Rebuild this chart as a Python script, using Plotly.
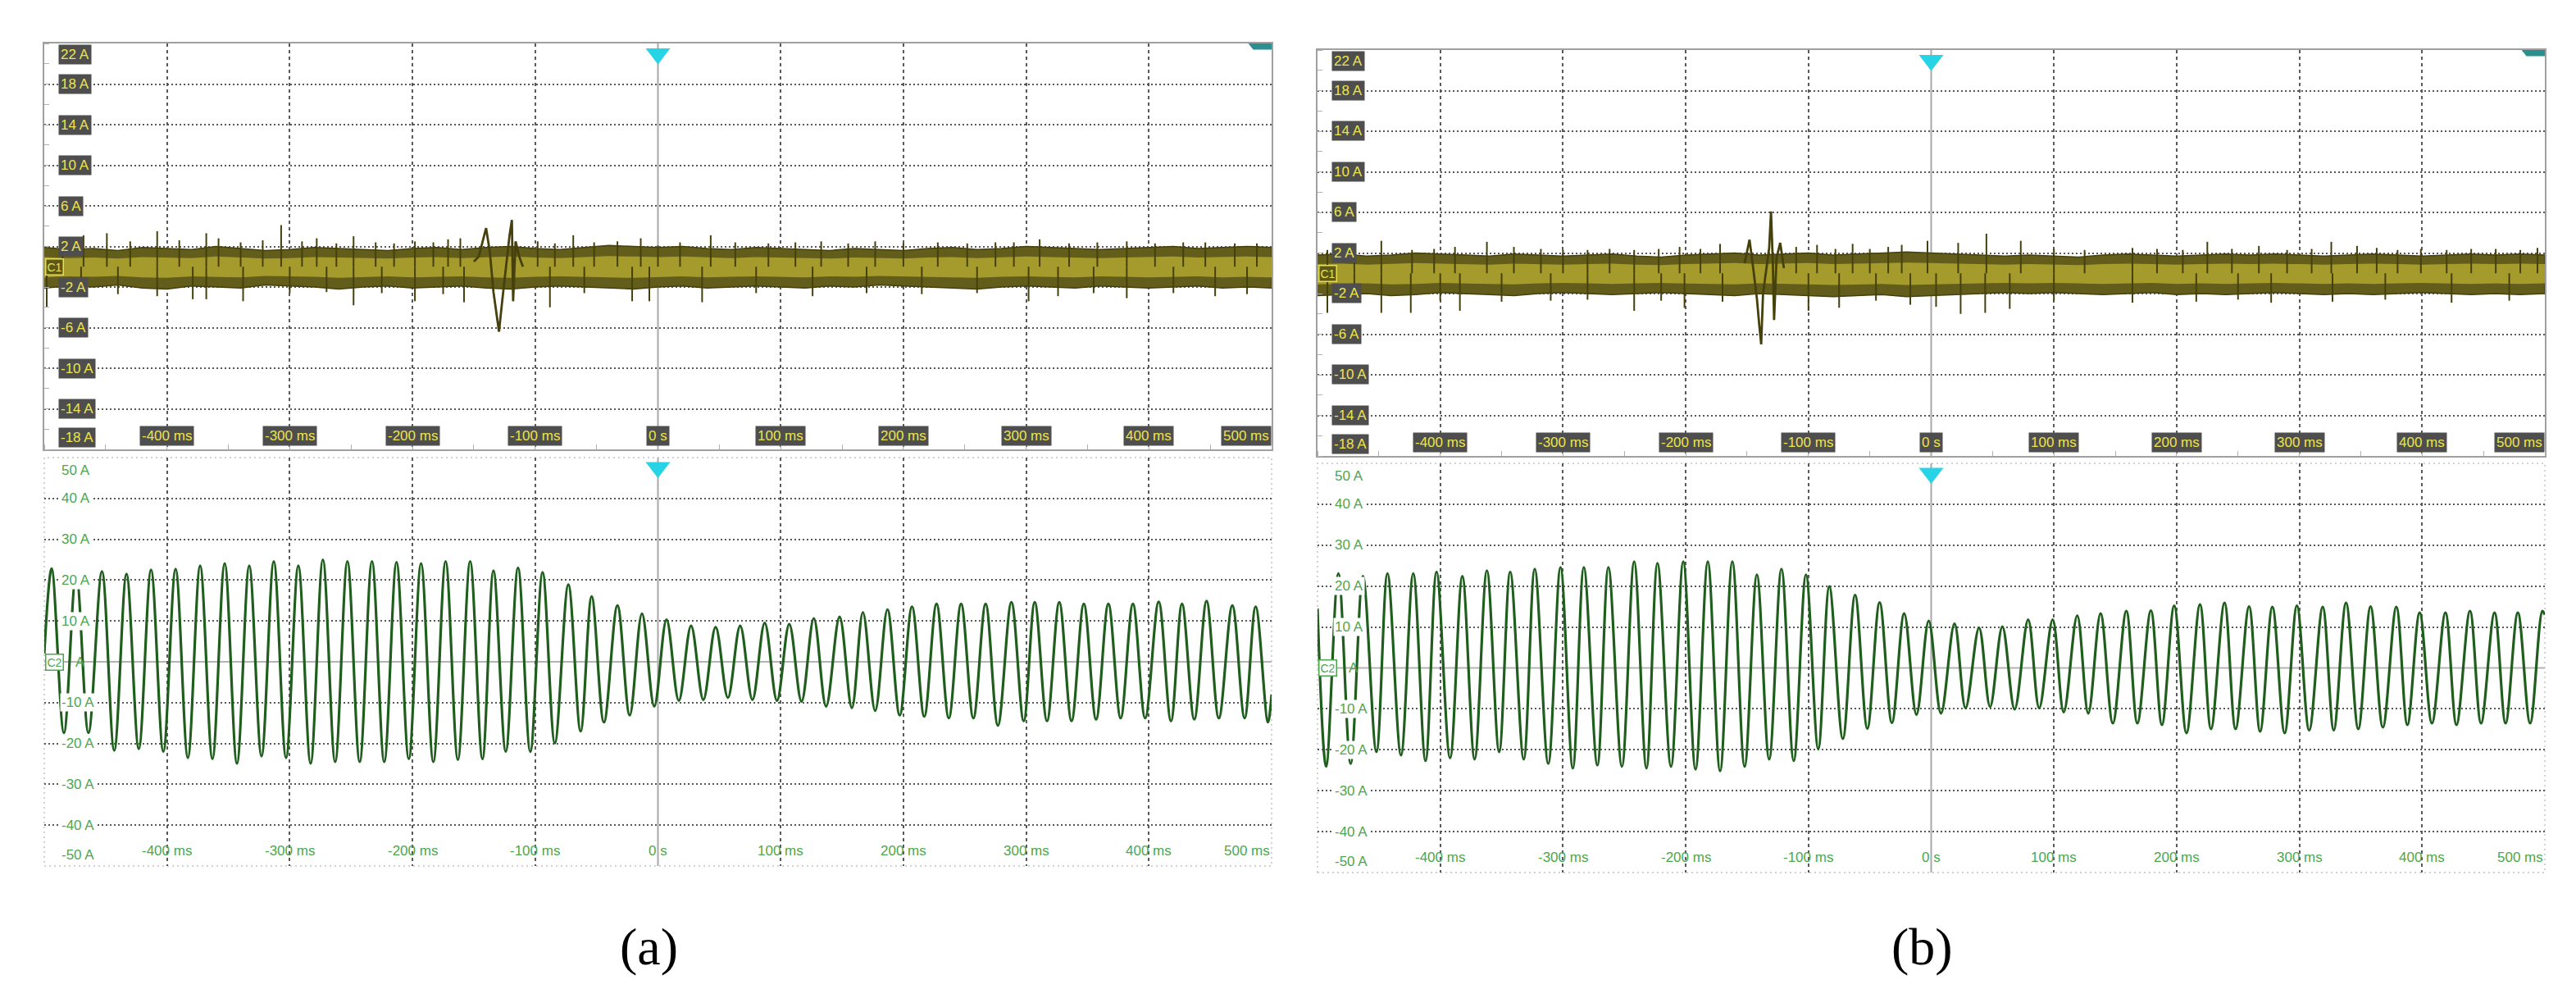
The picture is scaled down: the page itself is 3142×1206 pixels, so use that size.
import plotly.graph_objects as go

# ---------------- DATA ----------------
# time grid labels
x_tick_vals = [-400, -300, -200, -100, 0, 100, 200, 300, 400, 500]
x_tick_text = ["-400 ms", "-300 ms", "-200 ms", "-100 ms", "0 s",
               "100 ms", "200 ms", "300 ms", "400 ms", "500 ms"]
top_y_vals = [22, 18, 14, 10, 6, 2, -2, -6, -10, -14, -18]
top_y_text = ["22 A", "18 A", "14 A", "10 A", "6 A", "2 A", "-2 A", "-6 A", "-10 A", "-14 A", "-18 A"]
bot_y_vals = [50, 40, 30, 20, 10, -10, -20, -30, -40, -50]
bot_y_text = ["50 A", "40 A", "30 A", "20 A", "10 A", "-10 A", "-20 A", "-30 A", "-40 A", "-50 A"]

# ----- panel (a), channel 2 (green, 50 Hz current): peak / trough times (ms) and values (A)
a_peak_t = [-494, -474, -453, -433, -413, -393, -373, -353, -333, -313, -293, -273, -253, -233, -213,
            -193, -173, -153, -134, -114, -94, -73, -54, -33, -13, 7, 27, 47, 67, 87, 107, 127, 148,
            167, 187, 207, 227, 247, 267, 288, 307, 327, 347, 367, 387, 408, 427, 447, 468, 487]
a_peak_v = [22.8, 21.7, 22.1, 21.5, 22.5, 22.7, 23.5, 24.1, 23.5, 24.6,
            23.5, 25.0, 24.6, 24.6, 24.4, 24.1, 24.6, 24.6, 22.3, 23.0,
            21.9, 18.9, 16.0, 13.8, 11.8, 10.3, 8.8, 8.5, 8.8, 9.5,
            9.2, 10.6, 11.0, 12.1, 12.8, 13.5, 14.2, 14.2, 14.2, 14.6,
            14.6, 14.6, 14.2, 14.2, 14.2, 14.7, 14.2, 14.9, 13.8, 13.5]
a_trough_t = [-484, -464, -443, -423, -403, -383, -363, -343, -323, -303, -283, -263, -243, -223, -203,
              -183, -163, -143, -124, -104, -84, -63, -44, -23, -3, 17, 37, 57, 77, 97, 117, 137, 158,
              177, 197, 217, 237, 257, 277, 298, 317, 337, 357, 377, 397, 418, 437, 457, 478, 497]
a_trough_v = [-17.4, -17.4, -21.7, -21.3, -22.0, -23.5, -23.8, -24.9, -23.1, -23.5,
              -24.9, -24.5, -24.5, -24.5, -23.8, -24.5, -24.0, -23.8, -22.0, -22.0,
              -19.9, -17.0, -14.8, -13.1, -10.9, -9.5, -9.3, -8.8, -9.3, -9.5,
              -9.7, -10.9, -11.3, -12.0, -13.1, -13.4, -13.8, -13.8, -15.6, -14.5,
              -14.5, -14.5, -14.1, -13.8, -13.8, -14.5, -14.1, -13.8, -13.8, -14.8]
a_start_v = 2.0
a_end_v = -8.0

# ----- panel (b), channel 2
b_peak_t = [-483, -463, -443, -422, -403, -382, -362, -343, -323, -302, -283, -263, -242, -223, -202,
            -182, -162, -142, -122, -102, -83, -62, -42, -22, -2, 19, 39, 58, 79, 99, 119, 138, 159,
            179, 198, 219, 239, 259, 278, 298, 319, 338, 358, 379, 398, 419, 439, 459, 478, 498]
b_peak_v = [23.1, 22.4, 23.1, 23.1, 23.5, 22.4, 23.8, 23.5, 24.2, 24.6,
            24.6, 24.6, 26.0, 25.6, 26.0, 26.0, 26.0, 22.8, 24.2, 22.8,
            19.9, 17.8, 16.0, 13.3, 11.5, 10.8, 9.8, 10.1, 11.8, 11.8,
            12.8, 13.3, 13.9, 14.0, 15.2, 15.5, 15.9, 15.0, 14.9, 15.2,
            14.9, 15.9, 15.0, 14.9, 13.5, 13.5, 13.9, 13.5, 13.5, 13.9]
b_trough_t = [-493, -473, -452, -432, -412, -392, -372, -352, -332, -312, -292, -272, -252, -232, -212,
              -192, -172, -152, -132, -112, -92, -72, -52, -32, -12, 8, 28, 48, 68, 88, 108, 128, 148,
              168, 188, 208, 228, 248, 268, 288, 308, 328, 348, 368, 388, 408, 428, 448, 468, 488]
b_trough_v = [-24.1, -23.4, -20.5, -21.3, -22.7, -22.0, -22.3, -20.5, -22.3, -23.4,
              -24.5, -23.8, -24.1, -24.5, -24.1, -24.8, -25.2, -24.1, -22.3, -22.7,
              -19.8, -17.3, -14.8, -13.4, -11.4, -11.1, -9.8, -9.5, -10.1, -9.8,
              -10.8, -11.1, -13.5, -13.5, -13.9, -15.9, -14.9, -14.9, -15.5, -15.9,
              -15.2, -15.2, -14.9, -14.5, -13.9, -13.5, -13.9, -13.5, -13.5, -13.5]
b_start_v = 14.5
b_end_v = 13.0

# ----- channel 1 (yellow noise): band envelope every 20 ms, spikes and the fault transient
band_t = list(range(-500, 501, 20))
a_band_hi = [1.9, 1.7, 1.8, 1.6, 1.9, 1.8, 1.7, 2.0, 1.8, 1.6, 1.7, 1.9, 1.8, 1.7, 1.6, 1.8, 1.9,
             1.7, 1.9, 2.0, 1.8, 1.7, 1.9, 2.1, 2.0, 1.9, 2.0, 1.8, 1.7, 1.9, 1.8, 1.7, 1.6, 1.8,
             1.7, 1.6, 1.8, 1.9, 1.7, 1.8, 2.0, 1.9, 1.8, 1.7, 1.8, 1.9, 2.0, 1.8, 1.9, 2.0, 1.9]
a_band_lo = [-2.1, -1.9, -2.0, -1.8, -2.1, -2.2, -1.9, -2.0, -2.1, -1.8, -1.9, -2.0, -2.2, -2.0,
             -1.9, -2.1, -2.0, -1.9, -2.1, -2.2, -2.0, -1.9, -2.0, -2.1, -2.2, -2.0, -1.9, -2.1,
             -2.0, -1.9, -2.0, -2.1, -1.9, -2.0, -1.8, -1.9, -2.0, -2.1, -2.2, -2.0, -1.9, -2.0,
             -2.1, -1.9, -2.0, -2.1, -2.0, -1.9, -2.1, -2.0, -2.1]
a_up_t = [-485, -468, -449, -430, -408, -390, -368, -358, -340, -322, -307, -290, -278, -262, -248,
          -230, -215, -198, -183, -171, -161, -98, -84, -69, -52, -33, -14, 0, 18, 43, 63, 90, 112,
          133, 155, 177, 200, 228, 252, 275, 290, 311, 335, 358, 382, 405, 428, 446, 470, 488]
a_up_v = [2.4, 3.1, 3.3, 2.5, 3.5, 2.6, 3.3, 2.8, 2.4, 2.6, 4.1, 2.5, 2.8, 2.3, 3.0, 2.4, 2.3,
          2.5, 2.4, 2.7, 2.8, 2.5, 2.3, 3.1, 2.4, 2.5, 2.8, 2.1, 2.4, 3.1, 2.4, 2.3, 2.4, 2.5,
          2.3, 2.5, 2.3, 2.4, 2.3, 2.4, 2.4, 2.7, 2.3, 2.4, 2.5, 2.3, 2.4, 2.4, 2.3, 2.3]
a_dn_t = [-498, -470, -440, -408, -379, -368, -338, -300, -270, -248, -225, -198, -175, -158, -88,
          -60, -21, -7, 36, 80, 126, 170, 215, 260, 302, 326, 355, 382, 420, 454, 480]
a_dn_v = [-4.0, -2.6, -2.7, -2.9, -3.2, -3.2, -3.4, -2.6, -2.5, -3.8, -2.6, -3.4, -2.7, -3.5,
          -4.0, -2.6, -3.4, -3.4, -3.5, -2.6, -2.9, -2.6, -2.7, -2.6, -3.4, -2.9, -2.6, -3.1,
          -2.6, -2.9, -2.7]
a_ev_t = [-150, -146, -140, -137, -134, -131, -129.5, -127, -124, -121, -119, -118, -116, -113, -110]
a_ev_v = [0.5, 1.0, 3.8, 1.5, -2.5, -5.0, -6.4, -3.5, 0.0, 3.0, 4.6, -3.4, 2.5, 1.0, 0.0]

b_band_hi = [1.8, 1.9, 1.7, 1.8, 2.0, 1.9, 1.8, 1.7, 1.9, 1.8, 1.7, 1.8, 1.9, 1.7, 1.6, 1.8, 1.9,
             2.0, 1.8, 1.9, 2.0, 1.8, 1.9, 2.0, 2.1, 2.0, 1.9, 1.8, 1.7, 1.8, 1.7, 1.6, 1.8, 1.9,
             1.8, 1.7, 1.8, 1.9, 1.8, 1.9, 1.8, 1.7, 1.8, 1.9, 1.8, 1.7, 1.8, 1.9, 1.8, 1.9, 1.8]
b_band_lo = [-2.2, -2.1, -2.0, -2.2, -2.1, -1.9, -2.0, -2.1, -2.2, -2.0, -1.9, -2.0, -2.1, -2.0,
             -1.9, -2.0, -2.1, -2.2, -2.0, -2.1, -2.2, -2.3, -2.2, -2.1, -2.3, -2.2, -2.1, -2.0,
             -1.9, -2.0, -1.9, -2.0, -2.1, -2.0, -1.9, -2.1, -2.0, -2.1, -2.0, -1.9, -2.0, -2.1,
             -2.0, -2.1, -2.0, -1.9, -2.0, -2.1, -2.0, -2.1, -2.0]
b_up_t = [-492, -470, -448, -423, -405, -388, -362, -340, -318, -300, -280, -262, -242, -222, -205,
          -188, -172, -110, -93, -78, -64, -50, -35, -24, -3, 22, 45, 73, 100, 125, 164, 184, 205,
          225, 245, 267, 290, 310, 326, 347, 363, 380, 399, 420, 440, 460, 480, 494]
b_up_v = [2.3, 2.4, 3.2, 2.3, 2.4, 2.6, 3.1, 2.6, 2.4, 2.3, 2.3, 2.4, 2.3, 2.4, 2.6, 2.4, 2.9,
          2.6, 2.8, 2.4, 2.9, 2.4, 2.6, 2.8, 3.2, 3.0, 3.9, 3.2, 2.4, 2.3, 2.5, 2.4, 2.3, 3.1,
          2.4, 2.7, 2.3, 2.4, 3.1, 2.7, 2.5, 2.3, 2.4, 2.3, 2.4, 2.4, 2.3, 2.5]
b_dn_t = [-492, -470, -448, -424, -400, -384, -350, -310, -280, -242, -220, -201, -170, -100, -75,
          -45, -17, 4, 24, 44, 64, 100, 164, 216, 250, 277, 327, 370, 424, 471]
b_dn_v = [-3.9, -2.8, -3.9, -3.9, -2.7, -3.7, -2.8, -2.7, -2.6, -3.7, -2.7, -3.4, -2.8, -3.7,
          -3.4, -2.7, -3.1, -3.3, -4.0, -3.9, -3.5, -2.7, -2.9, -2.8, -2.6, -2.9, -2.8, -2.6,
          -2.9, -2.7]
b_ev_t = [-152, -148, -145, -142, -140, -138.5, -137, -134, -132, -130.5, -129, -128, -126, -123, -120]
b_ev_v = [1.0, 3.3, 0.5, -2.5, -5.2, -7.0, -2.0, 0.5, 2.5, 6.1, 1.0, -4.6, 1.5, 3.0, 0.5]

panel_labels = ["(a)", "(b)"]

# ---------------- STYLE ----------------
W, H = 3142, 1206
FONT = "Liberation Sans Narrow, Liberation Sans, Arial, sans-serif"
YEL_TXT = "#ece44c"
BOX_BG = "#4e4e4e"
GRN_TXT = "#4da64d"
GRID = "#585858"
FRAME = "#a0a0a0"
OLIVE_DARK = "#45400c"

A_X = [46 / W, 1543 / W]
B_X = [1599 / W, 3096 / W]
A_TOP = [1 - 540 / H, 1 - 45 / H]
A_BOT = [1 - 1048 / H, 1 - 550 / H]
B_TOP = [1 - 548 / H, 1 - 53 / H]
B_BOT = [1 - 1056 / H, 1 - 557 / H]

fig = go.Figure()
layout = dict(width=W, height=H, margin=dict(l=0, r=0, t=0, b=0),
              paper_bgcolor="white", plot_bgcolor="white", showlegend=False)
annotations = []
shapes = []

grid_x = [v for v in x_tick_vals if v not in (0, 500)]


def axis_pair(n, xdom, ydom, yr, ygrid, top):
    xs = "" if n == 1 else str(n)
    xa = dict(domain=xdom, range=[-500, 500], anchor="y" + xs, showgrid=True,
              tickvals=grid_x, showticklabels=False, gridcolor=GRID, griddash="4px,4px",
              gridwidth=1.5, zeroline=False, ticks="", fixedrange=True)
    ya = dict(domain=ydom, range=yr, anchor="x" + xs, showgrid=True, tickvals=ygrid,
              showticklabels=False, gridcolor=GRID, griddash="2px,3px", gridwidth=1.8,
              zeroline=False, ticks="", fixedrange=True)
    if top:
        for a in (xa, ya):
            a.update(showline=True, linecolor=FRAME, linewidth=2, mirror=True)
        xa["minor"] = dict(dtick=50, ticks="inside", ticklen=6, tickcolor="#b0b0b0", showgrid=False)
        ya["minor"] = dict(dtick=2, tick0=0, ticks="inside", ticklen=6, tickcolor="#b0b0b0", showgrid=False)
    layout["xaxis" + xs] = xa
    layout["yaxis" + xs] = ya
    return "x" + xs, "y" + xs


def center_lines(xr, yr, horizontal):
    shapes.append(dict(type="line", xref=xr, yref=yr + " domain", x0=0, x1=0, y0=0, y1=1,
                       line=dict(color="#a8a8a8", width=2), layer="below"))
    if horizontal:
        shapes.append(dict(type="line", xref=xr + " domain", yref=yr, x0=0, x1=1, y0=0, y1=0,
                           line=dict(color="#b4b4b4", width=2), layer="below"))


def top_panel(n, xdom, ydom, hi, lo, up_t, up_v, dn_t, dn_v, ev_t, ev_v):
    xr, yr = axis_pair(n, xdom, ydom, [-18, 22], [18, 14, 10, 6, 2, -2, -6, -10, -14], True)
    center_lines(xr, yr, False)
    # noise band (outer envelope)
    fig.add_trace(go.Scatter(x=band_t + band_t[::-1], y=hi + lo[::-1], fill="toself",
                             fillcolor="#635d1c", line=dict(color=OLIVE_DARK, width=1.5),
                             mode="lines", xaxis=xr, yaxis=yr, hoverinfo="skip"))
    # brighter core of the band
    core_hi = [v * 0.5 for v in hi]
    core_lo = [v * 0.5 for v in lo]
    fig.add_trace(go.Scatter(x=band_t + band_t[::-1], y=core_hi + core_lo[::-1], fill="toself",
                             fillcolor="rgba(176,166,48,0.85)", line=dict(width=0),
                             mode="lines", xaxis=xr, yaxis=yr, hoverinfo="skip"))
    sx, sy = [], []
    for t, v in list(zip(up_t, up_v)) + list(zip(dn_t, dn_v)):
        sx += [t, t, None]
        sy += [0, v, None]
    fig.add_trace(go.Scatter(x=sx, y=sy, mode="lines", line=dict(color=OLIVE_DARK, width=2),
                             xaxis=xr, yaxis=yr, hoverinfo="skip"))
    fig.add_trace(go.Scatter(x=ev_t, y=ev_v, mode="lines", line=dict(color=OLIVE_DARK, width=2.8),
                             xaxis=xr, yaxis=yr, hoverinfo="skip"))
    # trigger marker and corner tag
    fig.add_trace(go.Scatter(x=[0], y=[21.0], mode="markers", cliponaxis=False,
                             marker=dict(symbol="triangle-down", size=26, color="#27d4e6"),
                             xaxis=xr, yaxis=yr, hoverinfo="skip"))
    shapes.append(dict(type="path", xref=xr, yref=yr,
                       path="M 481,22 L 500,22 L 500,21.4 L 485,21.4 Z",
                       fillcolor="#2b8f8f", line=dict(width=0)))
    # y labels (boxed)
    for v, tx in zip(top_y_vals, top_y_text):
        anc = "top" if v == 22 else ("bottom" if v == -18 else "middle")
        annotations.append(dict(x=-500, y=v, xref=xr, yref=yr, text=tx, showarrow=False,
                                xanchor="left", yanchor=anc, xshift=17,
                                yshift=(-1 if v == 22 else (2 if v == -18 else 0)),
                                bgcolor=BOX_BG, borderpad=2,
                                font=dict(family=FONT, size=17, color=YEL_TXT)))
    # x labels (boxed)
    for v, tx in zip(x_tick_vals, x_tick_text):
        annotations.append(dict(x=v, y=-18, xref=xr, yref=yr, text=tx, showarrow=False,
                                xanchor="right" if v == 500 else "center", yanchor="bottom",
                                yshift=4, bgcolor=BOX_BG, borderpad=2,
                                font=dict(family=FONT, size=17, color=YEL_TXT)))
    annotations.append(dict(x=-500, y=0, xref=xr, yref=yr, text="C1", showarrow=False,
                            xanchor="left", yanchor="middle", xshift=1, bgcolor="#5d5818",
                            bordercolor="#e8e04a", borderwidth=1.5, borderpad=1,
                            font=dict(family=FONT, size=14, color=YEL_TXT)))


def bottom_panel(n, xdom, ydom, pk_t, pk_v, tr_t, tr_v, start_first_peak, sv, ev):
    xr, yr = axis_pair(n, xdom, ydom, [-50, 50], [40, 30, 20, 10, -10, -20, -30, -40], False)
    center_lines(xr, yr, True)
    shapes.append(dict(type="rect", xref=xr + " domain", yref=yr + " domain", x0=0, x1=1, y0=0, y1=1,
                       line=dict(color="#c4c4c4", width=1.5, dash="2px,4px"), layer="below"))
    xs, ys = [-500], [sv]
    first = (pk_t, pk_v) if start_first_peak else (tr_t, tr_v)
    second = (tr_t, tr_v) if start_first_peak else (pk_t, pk_v)
    for i in range(len(pk_t)):
        xs += [first[0][i], second[0][i]]
        ys += [first[1][i], second[1][i]]
    xs.append(500)
    ys.append(ev)
    fig.add_trace(go.Scatter(x=xs, y=ys, mode="lines", line=dict(color="#1f5e1c", width=3.2,
                             shape="spline", smoothing=1.0),
                             xaxis=xr, yaxis=yr, hoverinfo="skip"))
    fig.add_trace(go.Scatter(x=[0], y=[47.6], mode="markers", cliponaxis=False,
                             marker=dict(symbol="triangle-down", size=26, color="#27d4e6"),
                             xaxis=xr, yaxis=yr, hoverinfo="skip"))
    for v, tx in zip(bot_y_vals, bot_y_text):
        anc = "top" if v == 50 else ("bottom" if v == -50 else "middle")
        annotations.append(dict(x=-500, y=v, xref=xr, yref=yr, text=tx, showarrow=False,
                                xanchor="left", yanchor=anc, xshift=19,
                                yshift=(-4 if v == 50 else (2 if v == -50 else 0)),
                                bgcolor="white",
                                font=dict(family=FONT, size=17, color=GRN_TXT)))
    for v, tx in zip(x_tick_vals, x_tick_text):
        annotations.append(dict(x=v, y=-50, xref=xr, yref=yr, text=tx, showarrow=False,
                                xanchor="right" if v == 500 else "center", yanchor="bottom",
                                yshift=7, font=dict(family=FONT, size=17, color=GRN_TXT)))
    annotations.append(dict(x=-500, y=0, xref=xr, yref=yr, text="C2", showarrow=False,
                            xanchor="left", yanchor="middle", xshift=1, bgcolor="white",
                            bordercolor=GRN_TXT, borderwidth=1.5, borderpad=1,
                            font=dict(family=FONT, size=14, color=GRN_TXT)))
    annotations.append(dict(x=-500, y=0, xref=xr, yref=yr, text="A", showarrow=False,
                            xanchor="left", yanchor="middle", xshift=36,
                            font=dict(family=FONT, size=17, color=GRN_TXT)))


top_panel(1, A_X, A_TOP, a_band_hi, a_band_lo, a_up_t, a_up_v, a_dn_t, a_dn_v, a_ev_t, a_ev_v)
bottom_panel(2, A_X, A_BOT, a_peak_t, a_peak_v, a_trough_t, a_trough_v, True, a_start_v, a_end_v)
top_panel(3, B_X, B_TOP, b_band_hi, b_band_lo, b_up_t, b_up_v, b_dn_t, b_dn_v, b_ev_t, b_ev_v)
bottom_panel(4, B_X, B_BOT, b_peak_t, b_peak_v, b_trough_t, b_trough_v, False, b_start_v, b_end_v)

for lbl, px in zip(panel_labels, [783 / W, 2336 / W]):
    annotations.append(dict(x=px, y=1 - 1146 / H, xref="paper", yref="paper", text=lbl,
                            showarrow=False, xanchor="center", yanchor="middle",
                            font=dict(family="Liberation Serif, Times New Roman, serif",
                                      size=64, color="black")))

layout["annotations"] = annotations
layout["shapes"] = shapes
fig.update_layout(**layout)
fig.write_html("out.html")
